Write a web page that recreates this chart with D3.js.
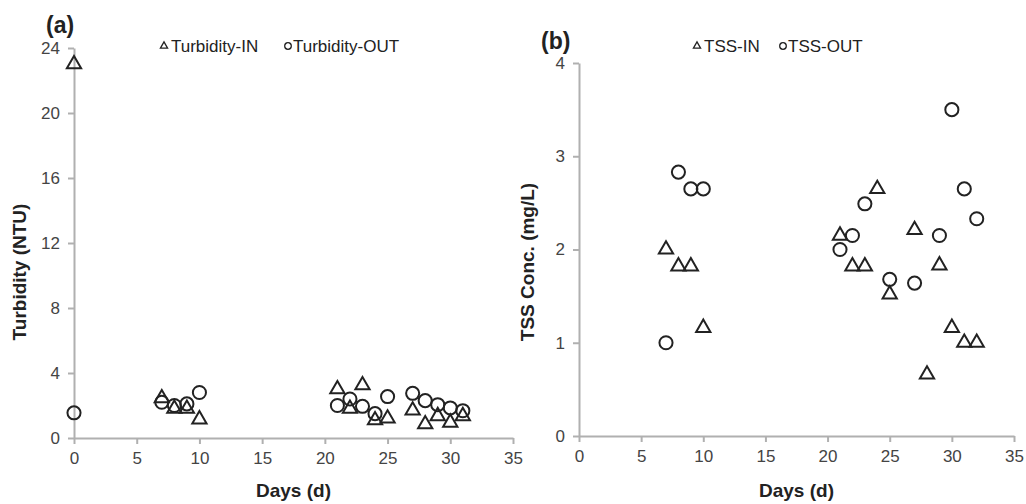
<!DOCTYPE html>
<html><head><meta charset="utf-8">
<script src="https://cdn.jsdelivr.net/npm/d3@7"></script>
<style>
body{margin:0;background:#fff;}
svg text{font-family:"Liberation Sans",Arial,sans-serif;}
</style></head>
<body><svg id="c" width="1026" height="504"></svg>
<script>
// Panel (a) Turbidity
const turbInDays  = [0, 7, 8, 9, 10, 21, 22, 23, 24, 25, 27, 28, 29, 30, 31];
const turbInVals  = [23, 2.45, 1.8, 1.8, 1.15, 3.0, 1.8, 3.25, 1.1, 1.2, 1.7, 0.85, 1.35, 0.95, 1.35];
const turbOutDays = [0, 7, 8, 9, 10, 21, 22, 23, 24, 25, 27, 28, 29, 30, 31];
const turbOutVals = [1.55, 2.2, 2.0, 2.1, 2.8, 2.0, 2.4, 1.95, 1.5, 2.55, 2.75, 2.3, 2.05, 1.85, 1.68];
// Panel (b) TSS
const tssInDays  = [7, 8, 9, 10, 21, 22, 23, 24, 25, 27, 28, 29, 30, 31, 32];
const tssInVals  = [2.0, 1.82, 1.82, 1.16, 2.15, 1.82, 1.82, 2.65, 1.52, 2.21, 0.66, 1.83, 1.16, 1.0, 1.0];
const tssOutDays = [7, 8, 9, 10, 21, 22, 23, 25, 27, 29, 30, 31, 32];
const tssOutVals = [1.0, 2.83, 2.65, 2.65, 2.0, 2.15, 2.49, 1.68, 1.64, 2.15, 3.5, 2.65, 2.33];

const xTicks = [0, 5, 10, 15, 20, 25, 30, 35];
const turbTicks = [0, 4, 8, 12, 16, 20, 24];
const tssTicks = [0, 1, 2, 3, 4];

const svg = d3.select("#c");
const axisCol = "#b0b0b0", labCol = "#444";

function panel(o){
  const x = d3.scaleLinear().domain([0,35]).range([o.x0,o.x1]);
  const y = d3.scaleLinear().domain([0,o.ymax]).range([o.y0,o.y1]);
  const g = svg.append("g");
  const gx = g.append("g").attr("transform",`translate(0,${o.y0})`)
    .call(d3.axisBottom(x).tickValues(xTicks).tickFormat(d3.format("d")).tickSize(6).tickSizeOuter(0).tickPadding(8));
  const gy = g.append("g").attr("transform",`translate(${o.x0},0)`)
    .call(d3.axisLeft(y).tickValues(o.ticks).tickFormat(d3.format("d")).tickSize(6).tickSizeOuter(0).tickPadding(8));
  [gx,gy].forEach(a=>{
    a.selectAll("path,line").attr("stroke",axisCol).attr("stroke-width",2);
    a.selectAll("text").attr("fill",labCol).style("font-size","17px");
  });
  // axis titles
  g.append("text").attr("x",(o.x0+o.x1)/2).attr("y",497).attr("text-anchor","middle")
    .style("font-size","19px").style("font-weight","bold").attr("fill","#222").text("Days (d)");
  g.append("text").attr("transform",`translate(${o.ytx},${o.yty}) rotate(-90)`)
    .attr("text-anchor","middle").style("font-size","19px").style("font-weight","bold")
    .attr("fill","#222").text(o.ytitle);
  g.append("text").attr("x",o.plx).attr("y",o.ply).style("font-size","23px")
    .style("font-weight","bold").attr("fill","#222").text(o.plabel);

  const circ = d3.symbol().type(d3.symbolCircle).size(135);
  const tri = d3.symbol().type(d3.symbolTriangle).size(88);
  g.selectAll(".o").data(o.outD.map((d,i)=>[d,o.outV[i]])).join("path")
    .attr("d",circ).attr("transform",d=>`translate(${x(d[0])},${y(d[1])})`)
    .attr("fill","none").attr("stroke","#222").attr("stroke-width",2);
  g.selectAll(".t").data(o.inD.map((d,i)=>[d,o.inV[i]])).join("path")
    .attr("d",tri).attr("transform",d=>`translate(${x(d[0])},${y(d[1])})`)
    .attr("fill","none").attr("stroke","#222").attr("stroke-width",2);

  // legend
  const lt = d3.symbol().type(d3.symbolTriangle).size(22);
  const lc = d3.symbol().type(d3.symbolCircle).size(34);
  g.append("path").attr("d",lt).attr("transform",`translate(${o.lx1},46)`)
    .attr("fill","none").attr("stroke","#222").attr("stroke-width",1.3);
  g.append("text").attr("x",o.lx1+7).attr("y",52).style("font-size","17px").attr("fill","#222").text(o.leg1);
  g.append("path").attr("d",lc).attr("transform",`translate(${o.lx2},46)`)
    .attr("fill","none").attr("stroke","#222").attr("stroke-width",1.3);
  g.append("text").attr("x",o.lx2+5).attr("y",52).style("font-size","17px").attr("fill","#222").text(o.leg2);
}

panel({x0:74,x1:513,y0:438,y1:48,ymax:24,ticks:turbTicks,
  inD:turbInDays,inV:turbInVals,outD:turbOutDays,outV:turbOutVals,
  ytitle:"Turbidity (NTU)",ytx:26,yty:272,plabel:"(a)",plx:46,ply:33,
  lx1:164,leg1:"Turbidity-IN",lx2:288,leg2:"Turbidity-OUT"});
panel({x0:579,x1:1014,y0:436,y1:63,ymax:4,ticks:tssTicks,
  inD:tssInDays,inV:tssInVals,outD:tssOutDays,outV:tssOutVals,
  ytitle:"TSS Conc. (mg/L)",ytx:534,yty:262,plabel:"(b)",plx:541,ply:49,
  lx1:697,leg1:"TSS-IN",lx2:783,leg2:"TSS-OUT"});
</script></body></html>
